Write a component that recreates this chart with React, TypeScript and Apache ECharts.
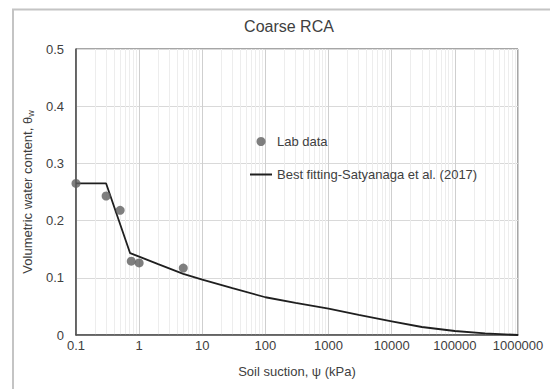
import React, { useEffect, useRef } from "react";
import * as echarts from "echarts";

const titleText = "Coarse RCA";
const xAxisName = "Soil suction, ψ (kPa)";
const labSeriesName = "Lab data";
const fitSeriesName = "Best fitting-Satyanaga et al. (2017)";

// Lab data: suction (kPa), volumetric water content
const labSuction = [0.1, 0.3, 0.5, 0.75, 1, 5];
const labTheta = [0.265, 0.243, 0.218, 0.129, 0.126, 0.117];

// Best-fit curve
const fitSuction = [0.1, 0.3, 0.72, 1, 2, 5, 10, 30, 100, 300, 1000, 3000, 10000, 30000, 100000, 300000, 1000000];
const fitTheta = [0.265, 0.265, 0.143, 0.137, 0.124, 0.107, 0.097, 0.082, 0.066, 0.056, 0.046, 0.035, 0.024, 0.014, 0.007, 0.003, 0];

const xTickLabels = ["0.1", "1", "10", "100", "1000", "10000", "100000", "1000000"];
const decades = [0.1, 1, 10, 100, 1000, 10000, 100000];
const minorSteps = [2, 3, 4, 5, 6, 7, 8, 9];

export default function App() {
  const ref = useRef<HTMLDivElement>(null);
  useEffect(() => {
    if (!ref.current) return;
    const chart = echarts.init(ref.current, null, { renderer: "svg" });
    const font = "Liberation Sans, Arial, sans-serif";
    const textColor = "#404040";
    const minorLines: any[] = [];
    decades.forEach((d) => minorSteps.forEach((m) => minorLines.push({ xAxis: parseFloat((d * m).toPrecision(6)) })));
    chart.setOption({
      animation: false,
      backgroundColor: "#ffffff",
      textStyle: { fontFamily: font },
      title: {
        text: titleText,
        left: 284,
        top: 13,
        textAlign: "center",
        textStyle: { fontFamily: font, fontSize: 16, fontWeight: "normal", color: textColor },
      },
      graphic: [
        {
          type: "rect",
          shape: { x: 13, y: 9.5, width: 600, height: 420 },
          style: { fill: "none", stroke: "#c4c4c4", lineWidth: 2 },
          silent: true,
          z: -10,
        },
      ],
      legend: {
        orient: "vertical",
        left: 244,
        top: 130,
        itemGap: 20,
        itemWidth: 22,
        itemHeight: 9,
        z: 10,
        textStyle: { fontFamily: font, fontSize: 13, color: textColor },
        data: [
          { name: labSeriesName, icon: "circle" },
          { name: fitSeriesName, itemStyle: { opacity: 0 } },
        ],
      },
      grid: {
        left: 76,
        right: 32,
        top: 49,
        bottom: 54,
        show: true,
        borderColor: "#4d4d4d",
        borderWidth: 1,
        backgroundColor: "transparent",
        z: 0,
      },
      xAxis: {
        type: "log",
        logBase: 10,
        min: 0.1,
        max: 1000000,
        name: xAxisName,
        nameLocation: "middle",
        nameGap: 30,
        nameTextStyle: { fontFamily: font, fontSize: 13, color: textColor },
        axisLine: { show: true, lineStyle: { color: "#4d4d4d", width: 1.5 } },
        axisTick: { show: false },
        axisLabel: {
          fontFamily: font,
          fontSize: 13,
          color: textColor,
          margin: 4,
          formatter: (v: number) => xTickLabels[Math.round(Math.log10(v)) + 1] ?? "",
        },
        splitLine: { show: true, lineStyle: { color: "#cfcfcf", width: 1 } },
      },
      yAxis: {
        type: "value",
        min: 0,
        max: 0.5,
        interval: 0.1,
        name: "Volumetric water content, θ{sub|w}",
        nameLocation: "middle",
        nameGap: 32,
        nameTextStyle: {
          fontFamily: font,
          fontSize: 13,
          color: textColor,
          rich: { sub: { fontFamily: font, fontSize: 9, color: textColor, verticalAlign: "bottom", padding: [6, 0, 0, 0] } },
        },
        axisLine: { show: true, lineStyle: { color: "#4d4d4d", width: 1.5 } },
        axisTick: { show: false },
        axisLabel: {
          fontFamily: font,
          fontSize: 13,
          color: textColor,
          margin: 12,
          formatter: (v: number) => (v === 0 ? "0" : v.toFixed(1)),
        },
        splitLine: { show: true, lineStyle: { color: "#d9d9d9", width: 1 } },
      },
      series: [
        {
          name: "minor",
          type: "line",
          data: [],
          silent: true,
          z: 0,
          markLine: {
            silent: true,
            z: 0,
            symbol: "none",
            label: { show: false },
            lineStyle: { color: "#ededed", type: "solid", width: 1 },
            data: minorLines,
          },
        },
        {
          name: fitSeriesName,
          type: "line",
          data: fitSuction.map((x, i) => [x, fitTheta[i]]),
          symbol: "none",
          smooth: false,
          lineStyle: { color: "#1f1f1f", width: 1.8 },
          itemStyle: { color: "#1f1f1f" },
          z: 5,
        },
        {
          name: labSeriesName,
          type: "scatter",
          data: labSuction.map((x, i) => [x, labTheta[i]]),
          symbol: "circle",
          symbolSize: 9,
          itemStyle: { color: "#5f5f5f" },
          z: 6,
        },
      ],
    });
    return () => chart.dispose();
  }, []);
  return <div ref={ref} style={{ position: "fixed", left: 0, top: 0, width: 550, height: 389 }} />;
}
